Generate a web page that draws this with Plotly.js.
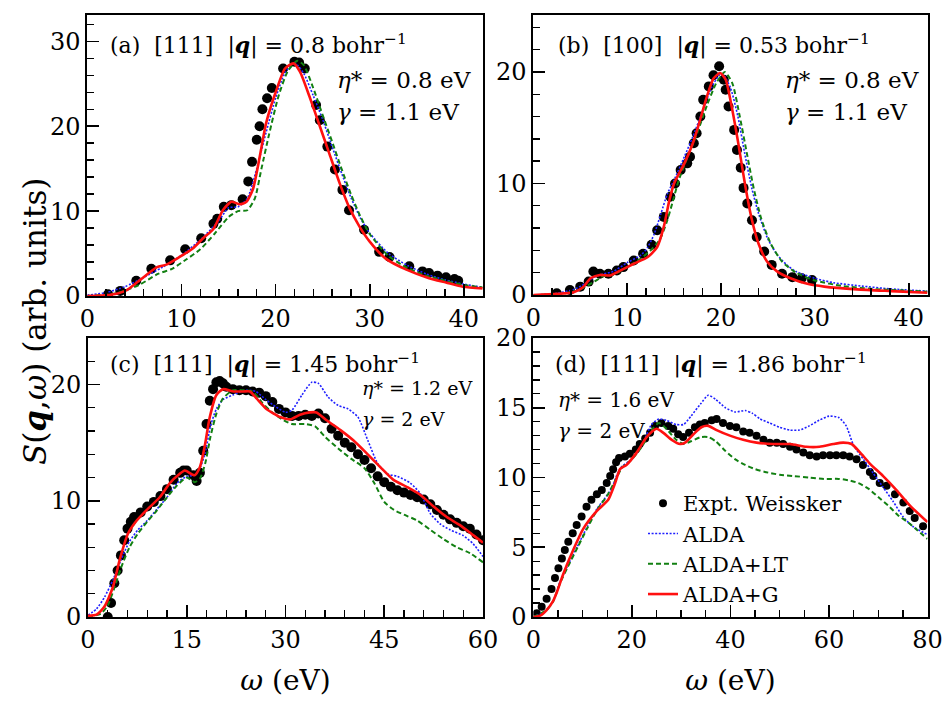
<!DOCTYPE html>
<html>
<head>
<meta charset="utf-8">
<script src="https://cdn.plot.ly/plotly-3.0.1.min.js"></script>
<style>html,body{margin:0;padding:0;background:#fff;}#chart{width:950px;height:704px;}</style>
</head>
<body>
<div id="chart"></div>
<script>
// ---------- Panel (a): [111] |q| = 0.8 ----------
const aExptX = [2.2,3.5,5.2,6.8,8.8,10.4,12.1,13.4,13.8,14.5,15.3,16.5,17.1,17.5,18.0,18.3,18.6,19.1,19.6,20.8,22.0,22.5,23.1,24.3,24.7,25.5,26.3,27.1,27.8,29.4,31.0,32.1,34.2,35.6,36.3,37.2,38.1,39.0,39.4];
const aExptY = [0.2,0.6,1.8,3.2,4.2,5.5,6.8,8.5,9.1,10.5,10.7,11.4,13.5,15.8,18.4,20.0,22.0,23.3,24.5,26.8,27.6,27.5,26.8,22.5,20.7,17.6,14.9,12.5,10.1,7.8,5.2,4.6,3.5,2.9,2.7,2.4,2.2,2.0,1.8];
const aAldaX = [0,2,4,6,8,10,12,14,15,16,17,18,19,20,21,22,23,24,25,26,27,28,29,30,32,34,36,38,40,42];
const aAldaY = [0.1,0.4,1.1,2.2,3.4,4.8,6.6,8.9,10.4,10.5,11.5,15.0,19.3,23.3,26.3,27.5,26.2,23.6,20.8,17.6,14.5,11.6,9.2,7.4,5.0,3.6,2.6,1.9,1.4,1.0];
const aLtX = [0,3,5.5,7.5,9,10.5,12,13.5,15,16,17,17.8,18.5,19.3,20.3,21.3,22.3,23,24,25,26,27,28,29,30,32,34,36,38,40,42];
const aLtY = [0,0.3,1.3,2.6,3.2,4.3,5.5,7.3,9.3,10.0,10.1,11.5,15.0,19.0,23.5,26.5,27.7,27.2,24.5,21.3,18.2,15.0,12.0,9.4,7.3,4.7,3.3,2.4,1.8,1.3,1.0];
const aGX = [0,1.5,2.8,4.2,5.4,7.4,8.4,9.8,11.2,12.3,13.4,14.4,15.3,16.2,16.9,17.6,18.3,19.0,20.1,21.0,21.9,22.6,23.6,24.7,25.7,26.8,27.8,28.9,30.0,31.7,33.9,36.3,38.1,39.9,42];
const aGY = [0,0.05,0.2,0.7,1.7,3.4,3.7,4.6,5.6,6.8,7.9,10.1,11.1,10.8,11.1,12.6,16.3,20.4,24.3,26.8,27.4,26.4,23.5,20.0,16.8,13.3,10.5,8.2,6.4,4.4,3.1,2.1,1.6,1.1,0.9];

// ---------- Panel (b): [100] |q| = 0.53 ----------
const bExptX = [2.5,3.9,5.0,5.9,6.4,7.1,8.0,8.9,9.6,10.7,11.7,12.6,13.2,13.9,14.6,15.1,15.7,16.4,16.7,17.1,17.4,17.8,18.1,18.7,19.2,19.8,20.3,20.5,20.8,21.4,21.7,22.1,22.4,22.8,23.3,23.8,24.6,25.4,26.5,27.6,28.6,29.7];
const bExptY = [0.15,0.45,0.75,1.2,2.1,1.9,1.9,2.2,2.5,3.1,3.7,4.5,5.8,7.0,8.8,10.0,11.2,11.8,12.4,13.6,14.5,16.0,17.5,18.7,19.7,20.5,19.3,18.4,16.9,14.8,13.0,11.4,9.6,8.2,6.7,5.2,3.9,2.7,1.9,1.6,1.5,1.35];
const bAldaX = [0,2.5,4.3,5.5,6.5,7.5,8.5,10,11.5,12.2,12.9,13.6,14.3,15,16.1,17,18,19,19.8,20.2,21,21.8,22.5,23.3,24,25,26,27,28,30,32,35,38,42];
const bAldaY = [0,0.15,0.5,1.0,1.6,1.9,2.1,2.9,3.6,4.3,5.5,7.3,9.1,10.3,12.4,14.2,16.4,18.6,19.7,19.8,18.6,16.0,12.8,9.5,7.3,5.0,3.6,2.7,2.1,1.5,1.1,0.8,0.55,0.35];
const bLtX = [0,3,5,6.5,7.5,8.5,10,11.5,12.5,13.5,14.2,14.8,15.5,16.5,17.5,18.5,19.5,20.4,21.2,22,22.8,23.5,24.3,25.3,26.5,28,30,33,36,42];
const bLtY = [0,0.1,0.5,1.2,1.7,1.8,2.5,3.3,4.0,5.0,6.5,8.2,10.3,12.5,14.6,17.0,19.0,20.0,19.0,16.0,12.5,9.5,6.8,4.6,3.0,2.0,1.3,0.8,0.55,0.3];
const bGX = [0,2.5,4.3,5.3,6.1,7.1,8.2,9.3,10.7,12.2,13.2,13.9,14.5,15.0,16.1,17.0,17.6,18.5,19.2,19.9,20.5,21.2,21.9,22.6,23.3,24.0,24.9,26.0,27.4,29.2,31.0,34.5,38.1,42];
const bGY = [0,0.1,0.25,0.7,1.5,1.8,1.75,2.2,2.8,3.4,4.3,6.1,8.5,10.0,11.8,13.6,15.2,17.8,19.4,19.9,19.3,16.6,13.3,9.7,6.7,4.6,3.0,2.1,1.5,1.0,0.75,0.5,0.35,0.2];

// ---------- Panel (c): [111] |q| = 1.45 ----------
const cExptX = [3.0,3.5,4.0,4.5,5.0,5.5,6.0,6.5,7,8,9,10,11,12,13,14,14.5,15,16,16.5,17,17.5,18,18.5,19,19.5,20,20.5,21,22,23,24,25,26,27,28,29,30,31,32,33,34,35,36,37,38,39,40,41,42,43,44,45,46,47,48,49,50,51,52,53,54,55,56,57,58,59,60];
const cExptY = [0,1.2,2.9,4.0,5.3,6.6,7.6,8.2,8.6,9.0,9.5,9.9,10.4,11.0,11.8,12.4,12.6,12.6,12.2,11.7,12.4,14.3,16.6,18.6,19.6,20.2,20.3,20.1,19.8,19.6,19.5,19.5,19.4,19.3,19.0,18.5,17.9,17.6,17.3,17.3,17.4,17.3,17.5,17.1,16.2,15.6,15.0,14.6,14.0,13.5,12.8,12.1,11.6,11.2,10.9,10.7,10.5,10.3,10.1,9.7,9.2,8.8,8.4,8.1,7.8,7.6,7.1,6.6];
const cAldaX = [0,1.3,2.5,3.8,5,6.3,7.6,9,10.5,12,13.5,15,16.2,17,17.8,18.6,19.5,20.5,22,24,25.5,27,28.5,30,31,32.5,34,35,36.5,38,39.5,41,42.5,44,45.5,47,49,50.5,52,53.5,55,57,58.5,60];
const cAldaY = [0.15,0.7,1.7,3.2,4.9,6.5,7.5,8.3,9.3,10.3,11.5,12.1,12.2,12.8,14.1,16.4,17.9,18.7,19.1,19.5,19.4,18.7,18.1,17.6,17.8,19.1,20.2,20.1,18.9,18.2,17.9,17.2,15.2,13.2,12.3,12.1,11.5,10.6,8.9,8.0,7.5,7.0,6.3,5.2];
const cLtX = [0,2,3,4,5,6.3,7.6,9,10.5,12,13.5,15,16.2,17,17.8,18.6,19.5,20.5,22,23.5,25,26.5,28,29.5,31,33,34.5,36,38,40,42,43.5,45,46.5,48,50,52,54,56,58,60];
const cLtY = [0,0.3,1.0,2.5,4.2,6.0,7.2,8.2,9.2,10.3,11.3,12.0,11.6,11.9,13.2,15.5,17.5,18.8,19.5,19.5,19.4,18.4,17.6,17.0,16.6,16.6,16.4,15.5,14.5,13.6,12.8,11.5,9.9,9.2,8.8,8.3,7.5,6.7,6.0,5.5,4.7];
const cGX = [0,1.3,2.5,3.8,4.8,6.1,7.4,8.9,10.9,12.4,13.9,14.7,16.2,17.0,17.7,18.5,19.5,20.5,22.1,23.6,24.6,25.6,27.1,29.2,30.7,32.2,33.7,34.7,36.3,38.3,40.3,42.3,44.4,46.4,48.4,50.5,52.5,54.5,56.5,58.6,60];
const cGY = [0.1,0.2,0.9,2.6,4.9,7.2,8.3,9.2,10.3,11.5,12.3,12.6,12.2,12.9,14.6,17.2,19.1,19.6,19.4,19.4,19.4,18.8,17.9,17.2,17.0,17.4,17.6,17.6,16.9,16.1,15.2,14.1,12.9,11.8,11.2,10.5,9.5,8.6,7.9,7.0,6.4];

// ---------- Panel (d): [111] |q| = 1.86 ----------
const dExptX = [0.7,1.7,2.7,3.7,4.4,5.1,5.8,6.4,7.1,8.0,8.8,9.8,10.8,11.8,12.9,13.9,14.9,15.6,16.2,16.8,17.4,18.6,19.6,20.8,21.6,22.7,23.7,24.7,26.0,27.4,28.4,29.4,30.4,31.6,32.8,33.8,34.8,36.2,37.2,38.5,39.9,41.2,42.6,43.9,45.3,46.7,48.0,49.4,50.7,52.1,53.4,54.8,56.1,57.5,58.8,60.2,61.5,62.9,64.2,65.6,66.9,68.3,69.0,70.3,71.7,73.4,75.1,76.4,77.4,79.1];
const dExptY = [0.27,0.74,1.3,2.0,2.8,3.5,4.2,4.8,5.4,6.0,6.6,7.2,7.9,8.4,8.8,9.1,9.6,10.1,10.6,11.1,11.4,11.5,11.7,12.0,12.4,12.8,13.2,13.7,13.9,13.7,13.5,13.1,12.9,13.2,13.6,13.8,13.9,14.1,14.2,13.9,13.7,13.6,13.3,13.2,13.0,12.7,12.5,12.5,12.4,12.2,12.0,11.8,11.6,11.5,11.6,11.6,11.6,11.6,11.5,11.3,10.9,10.4,10.1,9.6,9.4,8.8,8.2,7.6,7.1,6.5];
const dAldaX = [0,2.7,4.1,5.4,7,9,11,13,14.5,16,17,18,20,22,24,25.5,27,29,30.5,32,34,35.5,37,39,41,43,44.5,46,48,50,52,54,56,58,60,62,63.5,65,67,69,71,73,75,77,80];
const dAldaY = [0,0.5,1.2,2.5,3.7,5.1,6.5,7.8,8.5,9.3,10.2,10.8,11.3,12.3,13.8,14.2,14.1,13.8,13.8,14.4,15.3,15.9,15.6,15.0,14.7,14.8,14.6,14.2,13.9,13.6,13.4,13.4,13.7,14.1,14.4,14.3,13.7,12.3,11.3,10.3,9.3,8.3,7.2,6.5,5.9];
const dLtX = [0,2.7,4,5.4,7,9,11,13,15,16.5,18,20,22,24,25.5,27,29,30.5,32,34,35.5,37,39,41,43,45,47,50,53,56,59,62,64,66,68,70,72,74,76,78,80];
const dLtY = [0,0.5,1.1,2.4,3.6,5.0,6.4,7.7,8.7,9.7,10.7,11.3,12.2,13.4,13.9,13.5,12.7,12.4,12.6,12.9,12.9,12.6,11.9,11.3,10.9,10.6,10.4,10.2,10.1,10.0,9.9,9.9,9.8,9.6,9.2,8.6,8.0,7.3,6.8,6.2,5.6];
const dGX = [0,1.4,2.7,4.1,4.7,6.1,8.1,10.1,12.9,15.2,16.6,17.6,18.9,21.0,23.0,25.0,26.4,28.1,29.8,30.8,32.5,34.1,35.5,37.2,39.9,42.6,45.3,48.7,52.1,55.4,58.1,60.9,62.9,64.6,66.3,68.3,71.0,73.7,76.4,80];
const dGY = [0,0.1,0.5,1.2,1.7,3.1,4.8,6.3,7.6,8.4,9.6,10.6,10.9,11.8,12.9,13.5,13.2,12.7,12.4,12.5,13.1,13.6,13.7,13.4,13.0,12.7,12.5,12.4,12.4,12.2,12.2,12.4,12.5,12.4,11.8,11.0,10.1,9.1,8.0,6.8];

const legendNames = ['Expt. Weissker','ALDA','ALDA+LT','ALDA+G'];

const FONT = 'DejaVu Serif';
const BLUE = '#1f1fff', GREEN = '#128012', RED = '#ff1010';
const NB = '\u00a0';

function panelTraces(xa, ya, ex, ey, ax, ay, lx, ly, gx, gy, msize, show) {
  return [
    {x: ex, y: ey, xaxis: xa, yaxis: ya, mode: 'markers', type: 'scatter', name: legendNames[0], showlegend: show,
     marker: {color: '#000', size: msize}},
    {x: ax, y: ay, xaxis: xa, yaxis: ya, mode: 'lines', type: 'scatter', name: legendNames[1], showlegend: show,
     line: {color: BLUE, width: 1.6, dash: '2px,1.6px', shape: 'spline', smoothing: 0.6}},
    {x: lx, y: ly, xaxis: xa, yaxis: ya, mode: 'lines', type: 'scatter', name: legendNames[2], showlegend: show,
     line: {color: GREEN, width: 2, dash: '5px,3px', shape: 'spline', smoothing: 0.6}},
    {x: gx, y: gy, xaxis: xa, yaxis: ya, mode: 'lines', type: 'scatter', name: legendNames[3], showlegend: show,
     line: {color: RED, width: 2.6, shape: 'spline', smoothing: 0.6}}
  ];
}

const data = [].concat(
  panelTraces('x','y', aExptX,aExptY, aAldaX,aAldaY, aLtX,aLtY, aGX,aGY, 10, false),
  panelTraces('x2','y2', bExptX,bExptY, bAldaX,bAldaY, bLtX,bLtY, bGX,bGY, 10, false),
  panelTraces('x3','y3', cExptX,cExptY, cAldaX,cAldaY, cLtX,cLtY, cGX,cGY, 10, false),
  panelTraces('x4','y4', dExptX,dExptY, dAldaX,dAldaY, dLtX,dLtY, dGX,dGY, 8, true)
);

const W = 950, H = 704;
function dx(a, b) { return [a / W, b / W]; }
function dy(top, bot) { return [1 - bot / H, 1 - top / H]; }

function xax(domain, range, dtick, minor, anchor, title) {
  const o = {domain: domain, range: range, dtick: dtick, tick0: 0, anchor: anchor,
    showline: true, mirror: true, linewidth: 2, linecolor: '#000', showgrid: false, zeroline: false,
    ticks: 'inside', ticklen: 12, tickwidth: 1.6, tickcolor: '#000',
    minor: {dtick: minor, tick0: 0, ticks: 'inside', ticklen: 7, tickwidth: 1.4, tickcolor: '#000', showgrid: false},
    tickfont: {family: FONT, size: 24, color: '#000'}};
  if (title) o.title = {text: title, font: {family: FONT, size: 28, color: '#000'}, standoff: 18};
  return o;
}
function yax(domain, range, dtick, minor, anchor) {
  return {domain: domain, range: range, dtick: dtick, tick0: 0, anchor: anchor,
    showline: true, mirror: true, linewidth: 2, linecolor: '#000', showgrid: false, zeroline: false,
    ticks: 'inside', ticklen: 12, tickwidth: 1.6, tickcolor: '#000',
    minor: {dtick: minor, tick0: 0, ticks: 'inside', ticklen: 7, tickwidth: 1.4, tickcolor: '#000', showgrid: false},
    tickfont: {family: FONT, size: 24, color: '#000'}};
}

function ann(text, px, py, size, anchor) {
  return {text: text, xref: 'paper', yref: 'paper', x: px / W, y: 1 - py / H,
    xanchor: anchor || 'left', yanchor: 'middle', showarrow: false,
    font: {family: FONT, size: size, color: '#000'}};
}
function title(letter, dir, q) {
  return '(' + letter + ')' + NB + NB + '[' + dir + ']' + NB + NB + '|<b><i>q</i></b>|' + NB + '=' + NB + q + NB + 'bohr<sup>−1</sup>';
}
function eta(v) { return '<i>η</i>*' + NB + '=' + NB + v + NB + 'eV'; }
function gam(v) { return '<i>γ</i>' + NB + '=' + NB + v + NB + 'eV'; }

const layout = {
  width: W, height: H,
  margin: {l: 0, r: 0, t: 0, b: 0},
  paper_bgcolor: '#fff', plot_bgcolor: '#fff',
  font: {family: FONT, color: '#000'},
  xaxis: xax(dx(87.3, 482.7), [0, 42], 10, 2, 'y'),
  yaxis: yax(dy(15, 296), [0, 33.1], 10, 2, 'x'),
  xaxis2: xax(dx(533.3, 927.5), [0, 42], 10, 2, 'y2'),
  yaxis2: yax(dy(15, 295), [0, 25.1], 10, 2, 'x2'),
  xaxis3: xax(dx(88, 483), [0, 60], 15, 3, 'y3', '<i>ω</i> (eV)'),
  yaxis3: yax(dy(338, 617), [0, 24], 10, 2, 'x3'),
  xaxis4: xax(dx(533.3, 927.5), [0, 80], 20, 5, 'y4', '<i>ω</i> (eV)'),
  yaxis4: yax(dy(338, 617), [0, 20], 5, 1, 'x4'),
  showlegend: true,
  legend: {x: 643 / W, y: 1 - 483 / H, xanchor: 'left', yanchor: 'top', bgcolor: 'rgba(0,0,0,0)',
    font: {family: FONT, size: 21, color: '#000'}, tracegroupgap: 0, itemwidth: 30},
  annotations: [
    ann(title('a', '111', '0.8'), 108, 44, 22),
    ann(eta('0.8'), 335, 80, 23),
    ann(gam('1.1'), 335, 112, 23),
    ann(title('b', '100', '0.53'), 556, 44, 22),
    ann(eta('0.8'), 783, 80, 23),
    ann(gam('1.1'), 783, 112, 23),
    ann(title('c', '111', '1.45'), 108, 363, 22),
    ann(eta('1.2'), 360, 388, 19),
    ann(gam('2'), 360, 419, 19),
    ann(title('d', '111', '1.86'), 553, 363, 22),
    ann(eta('1.6'), 556, 400, 20),
    ann(gam('2'), 556, 431, 20),
    {text: '<i>S</i>(<b><i>q</i></b>,<i>ω</i>) (arb. units)', xref: 'paper', yref: 'paper', x: 35 / W, y: 1 - 322 / H,
     xanchor: 'center', yanchor: 'middle', textangle: -90, showarrow: false,
     font: {family: FONT, size: 31, color: '#000'}}
  ]
};

Plotly.newPlot('chart', data, layout, {staticPlot: true, displayModeBar: false});
</script>
</body>
</html>
